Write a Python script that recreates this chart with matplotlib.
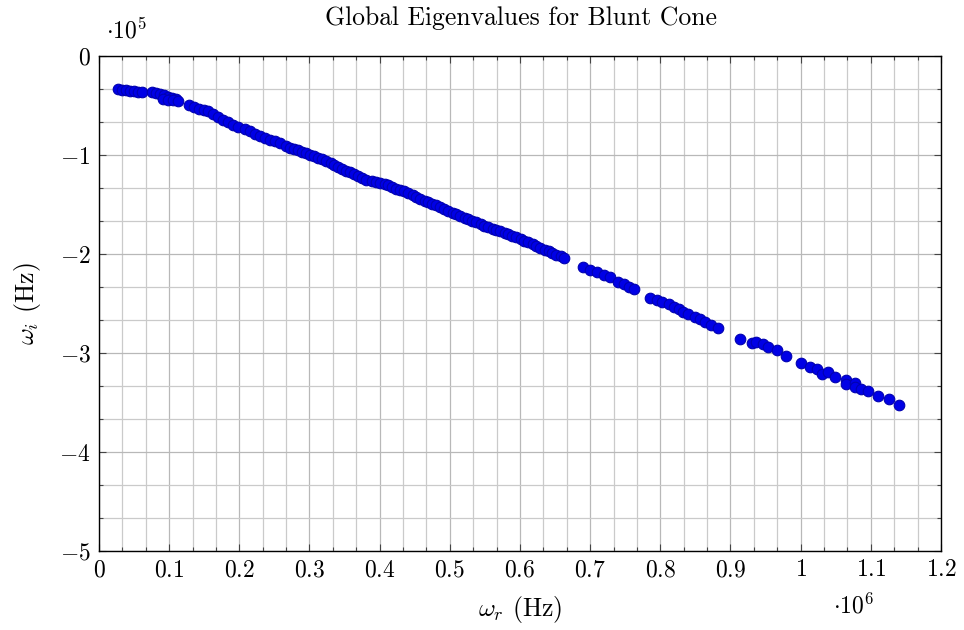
import numpy as np
import matplotlib
matplotlib.use("Agg")
import matplotlib.pyplot as plt
from matplotlib.ticker import MultipleLocator, FuncFormatter

plt.rcParams['font.family'] = 'serif'
plt.rcParams['font.serif'] = ['cmr10', 'DejaVu Serif']
plt.rcParams['mathtext.fontset'] = 'cm'
plt.rcParams['axes.formatter.use_mathtext'] = True
plt.rcParams['axes.unicode_minus'] = False

# eigenvalues, real part in 1e6 Hz and imaginary part in 1e5 Hz
omega_r = [
    0.027, 0.033, 0.039, 0.044, 0.050, 0.056, 0.061,
    0.076, 0.081, 0.087, 0.093, 0.098, 0.104, 0.110, 0.091, 0.098, 0.106, 0.113,
    0.128, 0.136, 0.143, 0.150, 0.155,
    0.163, 0.170, 0.177, 0.184, 0.191, 0.198,
    0.208, 0.215, 0.223, 0.230, 0.237, 0.244, 0.251, 0.258,
    0.267, 0.272, 0.278, 0.284, 0.290, 0.295, 0.301, 0.307, 0.312, 0.318,
    0.324, 0.330, 0.335, 0.341, 0.347, 0.352, 0.358, 0.364, 0.369, 0.375,
    0.381, 0.389, 0.395, 0.401, 0.407, 0.412, 0.418, 0.424, 0.429, 0.435,
    0.441, 0.447, 0.452, 0.458, 0.464, 0.469, 0.475, 0.481, 0.486, 0.492,
    0.498, 0.504, 0.509, 0.515, 0.521, 0.526, 0.532, 0.538, 0.544, 0.549,
    0.555, 0.561, 0.566, 0.572, 0.578, 0.583, 0.589, 0.595, 0.601, 0.606,
    0.612, 0.618, 0.623, 0.629, 0.635, 0.641, 0.646, 0.652, 0.658, 0.663,
    0.690, 0.700, 0.710, 0.720, 0.728,
    0.739, 0.748, 0.756, 0.763,
    0.786, 0.795, 0.803, 0.812, 0.819, 0.826, 0.833, 0.840, 0.849, 0.856,
    0.864, 0.872, 0.882,
    0.913,
    0.930, 0.936, 0.946, 0.954, 0.966, 0.979,
    1.000, 1.013, 1.024, 1.031, 1.039, 1.049, 1.064, 1.064, 1.078, 1.078,
    1.086, 1.096, 1.110, 1.126, 1.140,
]
omega_i = [
    -0.334, -0.344, -0.344, -0.354, -0.354, -0.364, -0.364,
    -0.364, -0.374, -0.384, -0.394, -0.415, -0.425, -0.435, -0.435, -0.445, -0.445, -0.455,
    -0.495, -0.516, -0.536, -0.546, -0.556,
    -0.586, -0.617, -0.647, -0.667, -0.698, -0.718,
    -0.738, -0.758, -0.789, -0.809, -0.829, -0.849, -0.859, -0.880,
    -0.910, -0.930, -0.940, -0.950, -0.971, -0.981, -1.001, -1.011, -1.031, -1.041,
    -1.062, -1.082, -1.102, -1.122, -1.143, -1.163, -1.173, -1.193, -1.213, -1.234,
    -1.254, -1.264, -1.274, -1.284, -1.294, -1.304, -1.325, -1.345, -1.355, -1.365,
    -1.385, -1.405, -1.426, -1.446, -1.466, -1.476, -1.496, -1.507, -1.527, -1.547,
    -1.567, -1.587, -1.598, -1.618, -1.638, -1.648, -1.668, -1.678, -1.699, -1.719,
    -1.729, -1.749, -1.759, -1.769, -1.790, -1.800, -1.820, -1.830, -1.850, -1.871,
    -1.881, -1.901, -1.921, -1.941, -1.962, -1.972, -1.992, -2.012, -2.022, -2.042,
    -2.133, -2.164, -2.184, -2.214, -2.235,
    -2.285, -2.305, -2.336, -2.356,
    -2.447, -2.467, -2.487, -2.508, -2.538, -2.558, -2.588, -2.609, -2.639, -2.659,
    -2.690, -2.720, -2.750,
    -2.862,
    -2.902, -2.892, -2.912, -2.942, -2.973, -3.033,
    -3.104, -3.145, -3.165, -3.215, -3.195, -3.246, -3.276, -3.316, -3.306, -3.347,
    -3.367, -3.387, -3.438, -3.468, -3.529,
]

fs = 17
fs_big = 18.5

fig = plt.figure(figsize=(9.64, 6.3), dpi=100)
ax = fig.add_axes([0.1027, 0.1254, 0.8734, 0.7857])

ax.scatter(omega_r, omega_i, s=58, facecolor='#0000e6', edgecolor='#0000b0',
           linewidths=0.8, zorder=3)

ax.set_xlim(0, 1.2)
ax.set_ylim(-5, 0)
ax.xaxis.set_major_locator(MultipleLocator(0.1))
ax.xaxis.set_minor_locator(MultipleLocator(0.1 / 3))
ax.yaxis.set_major_locator(MultipleLocator(1))
ax.yaxis.set_minor_locator(MultipleLocator(1 / 3))


def fmt(v, pos):
    v = round(v, 2)
    if abs(v - round(v)) < 1e-9:
        s = '%d' % round(v)
    else:
        s = ('%.1f' % v)
    return '$%s$' % s


ax.xaxis.set_major_formatter(FuncFormatter(fmt))
ax.yaxis.set_major_formatter(FuncFormatter(fmt))

ax.grid(True, which='major', color='#b8b8b8', linewidth=0.9, zorder=0)
ax.grid(True, which='minor', color='#cacaca', linewidth=0.9, zorder=0)
ax.set_axisbelow(True)

ax.tick_params(which='both', direction='in', top=True, right=True,
               labelsize=fs, color='#444444', width=0.8)
ax.tick_params(which='major', length=5, pad=6)
ax.tick_params(which='minor', length=3)
for sp in ax.spines.values():
    sp.set_linewidth(1.0)
    sp.set_color('black')

ax.set_xlabel(r'$\omega_r$ (Hz)', fontsize=fs_big, labelpad=9)
ax.set_ylabel(r'$\omega_i$ (Hz)', fontsize=fs_big, labelpad=12)

ax.text(0.008, 1.025, r'$\cdot 10^{5}$', transform=ax.transAxes,
        fontsize=fs, ha='left', va='bottom')
ax.text(0.872, -0.11, r'$\cdot 10^{6}$', transform=ax.transAxes,
        fontsize=fs, ha='left', va='center')

fig.text(0.54, 0.971, 'Global Eigenvalues for Blunt Cone', fontsize=fs_big,
         ha='center', va='center')

fig.savefig('out.png', dpi=100)
